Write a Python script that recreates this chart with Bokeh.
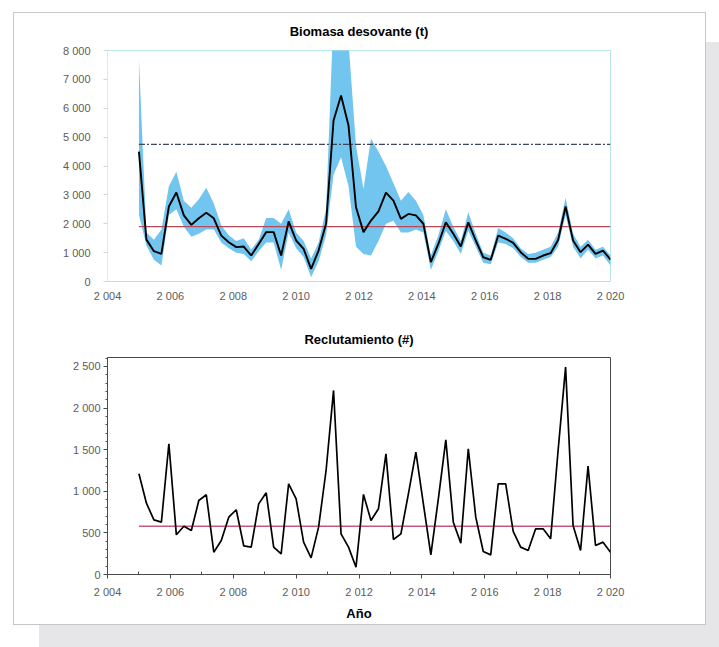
import numpy as np
from bokeh.plotting import figure
from bokeh.models import FixedTicker, Range1d
from bokeh.layouts import column
from bokeh.embed import file_html
from bokeh.resources import INLINE

# ---------------- data ----------------
# time steps (64 evenly spaced steps from 2005 to 2020, as in the picture)
years = list(np.linspace(2005, 2020, 64))

biomasa = [4500, 1450, 1050, 960, 2600, 3080, 2290, 1960, 2190, 2380,
           2190, 1590, 1360, 1190, 1210, 900, 1300, 1710, 1710, 900,
           2080, 1420, 1130, 440, 1070, 2000, 5575, 6440, 5400, 2570,
           1710, 2110, 2430, 3080, 2800, 2170, 2340, 2290, 2000, 670,
           1300, 2050, 1650, 1210, 2050, 1420, 840, 750, 1590, 1480,
           1340, 1015, 785, 785, 900, 980, 1440, 2600, 1420, 1015,
           1280, 960, 1070, 760]

biomasa_sup = [7700, 1700, 1450, 1800, 3300, 3800, 2800, 2550, 2850, 3250,
               2700, 1950, 1600, 1400, 1500, 1100, 1450, 2200, 2200, 2000,
               2500, 1700, 1400, 800, 1350, 2500, 9300, 9500, 8300, 4700,
               3200, 4950, 4500, 4000, 3400, 2800, 3100, 2800, 2300, 900,
               1600, 2500, 1900, 1400, 2400, 1650, 1000, 900, 1850, 1700,
               1500, 1150, 950, 1000, 1100, 1200, 1700, 2900, 1650, 1200,
               1450, 1100, 1200, 900]

biomasa_inf = [2300, 1250, 750, 550, 2300, 2500, 1900, 1550, 1650, 1800,
               1800, 1350, 1150, 1000, 950, 700, 1050, 1350, 1350, 400,
               1700, 1150, 850, 150, 700, 1600, 3700, 4300, 3300, 1200,
               950, 900, 1400, 2000, 2100, 1700, 1700, 1800, 1700, 400,
               1050, 1750, 1400, 950, 1750, 1200, 650, 600, 1350, 1300,
               1150, 850, 650, 650, 750, 850, 1200, 2300, 1200, 800,
               1100, 800, 900, 550]

biomasa_ref_alta = 4750
biomasa_ref_baja = 1900

reclutamiento = [1210, 857, 657, 629, 1571, 477, 580, 529, 889, 958,
                 268, 409, 689, 778, 345, 329, 849, 982, 329, 248,
                 1090, 909, 389, 200, 569, 1250, 2212, 489, 329, 88,
                 962, 649, 790, 1450, 421, 489, 970, 1470, 849, 236,
                 909, 1619, 629, 377, 1511, 689, 276, 236, 1090, 1090,
                 517, 329, 288, 549, 549, 429, 1490, 2492, 589, 288,
                 1302, 349, 389, 268]
reclutamiento_ref = 580

x_ticks = [2004, 2006, 2008, 2010, 2012, 2014, 2016, 2018, 2020]
x_labels = ["2 004", "2 006", "2 008", "2 010", "2 012", "2 014", "2 016", "2 018", "2 020"]
x_minor = [2005, 2007, 2009, 2011, 2013, 2015, 2017, 2019]
y1_ticks = [0, 1000, 2000, 3000, 4000, 5000, 6000, 7000, 8000]
y1_labels = ["0", "1 000", "2 000", "3 000", "4 000", "5 000", "6 000", "7 000", "8 000"]
y2_ticks = [0, 500, 1000, 1500, 2000, 2500]
y2_labels = ["0", "500", "1 000", "1 500", "2 000", "2 500"]
y2_minor = list(range(0, 2601, 100))

FONT = "Liberation Sans"
LABEL_COLOR = "#5c5c5c"

# ---------------- top: biomasa ----------------
p1 = figure(width=691, height=299, x_range=Range1d(2004, 2020), y_range=Range1d(0, 8000),
            output_backend="svg", toolbar_location=None,
            min_border_left=93, min_border_right=95, min_border_top=37, min_border_bottom=31,
            background_fill_color="white", border_fill_color="white")
p1.title.text = "Biomasa desovante (t)"
p1.title.align = "center"
p1.title.vertical_align = "top"
p1.title.text_font = FONT
p1.title.text_font_size = "13px"
p1.title.text_font_style = "bold"
p1.title.text_color = "black"
p1.title.standoff = 20
p1.grid.visible = False
p1.outline_line_color = "#b9e4e8"

p1.varea(x=years, y1=biomasa_inf, y2=biomasa_sup, fill_color="#72c5ef", fill_alpha=1.0)
p1.line(x=[years[0], years[-1]], y=[biomasa_ref_alta, biomasa_ref_alta],
        line_color="#3c4656", line_width=1.3, line_dash="6 2 2 2")
p1.line(x=[years[0], years[-1]], y=[biomasa_ref_baja, biomasa_ref_baja],
        line_color="#b84a5a", line_width=1.4)
p1.line(x=years, y=biomasa, line_color="black", line_width=1.9)

p1.xaxis.ticker = FixedTicker(ticks=x_ticks, minor_ticks=[])
p1.xaxis.major_label_overrides = dict(zip(x_ticks, x_labels))
p1.yaxis.ticker = FixedTicker(ticks=y1_ticks, minor_ticks=[])
p1.yaxis.major_label_overrides = dict(zip(y1_ticks, y1_labels))
for ax in (p1.xaxis[0], p1.yaxis[0]):
    ax.axis_line_color = "#b9e0dc"
    ax.major_label_text_font = FONT
    ax.major_label_text_font_size = "11px"
    ax.major_label_text_color = LABEL_COLOR
    ax.minor_tick_line_color = None
    ax.minor_tick_in = 0
    ax.minor_tick_out = 0
p1.xaxis.major_tick_line_color = None
p1.xaxis.major_tick_out = 0
p1.xaxis.major_tick_in = 0
p1.xaxis.major_label_standoff = 8
p1.yaxis.major_tick_line_color = "#d0d8dc"
p1.yaxis.major_tick_out = 4
p1.yaxis.major_tick_in = 0
p1.yaxis.major_label_standoff = 13
p1.yaxis.axis_line_color = "#dbe9f0"

# ---------------- bottom: reclutamiento ----------------
p2 = figure(width=691, height=312, x_range=Range1d(2004, 2020), y_range=Range1d(0, 2608),
            output_backend="svg", toolbar_location=None,
            min_border_left=93, min_border_right=95, min_border_top=45, min_border_bottom=50,
            background_fill_color="white", border_fill_color="white")
p2.title.text = "Reclutamiento (#)"
p2.title.align = "center"
p2.title.vertical_align = "middle"
p2.title.text_font = FONT
p2.title.text_font_size = "13px"
p2.title.text_font_style = "bold"
p2.title.text_color = "black"
p2.title.standoff = 20
p2.grid.visible = False
p2.outline_line_color = "#4a4a4a"

p2.line(x=[years[0], years[-1]], y=[reclutamiento_ref, reclutamiento_ref],
        line_color="#c8587a", line_width=1.4)
p2.line(x=years, y=reclutamiento, line_color="black", line_width=1.7)

p2.xaxis.ticker = FixedTicker(ticks=x_ticks, minor_ticks=x_minor)
p2.xaxis.major_label_overrides = dict(zip(x_ticks, x_labels))
p2.yaxis.ticker = FixedTicker(ticks=y2_ticks, minor_ticks=y2_minor)
p2.yaxis.major_label_overrides = dict(zip(y2_ticks, y2_labels))
for ax in (p2.xaxis[0], p2.yaxis[0]):
    ax.axis_line_color = "#4a4a4a"
    ax.major_tick_line_color = "#4a4a4a"
    ax.minor_tick_line_color = "#4a4a4a"
    ax.major_tick_out = 4
    ax.major_tick_in = 0
    ax.major_label_text_font = FONT
    ax.major_label_text_font_size = "11px"
    ax.major_label_text_color = LABEL_COLOR
p2.xaxis.minor_tick_in = 3
p2.xaxis.minor_tick_out = 0
p2.yaxis.minor_tick_in = 0
p2.yaxis.minor_tick_out = 2
p2.xaxis.major_label_standoff = 7
p2.yaxis.major_label_standoff = 3
p2.xaxis.axis_label = "Año"
p2.xaxis.axis_label_text_font = FONT
p2.xaxis.axis_label_text_font_size = "13px"
p2.xaxis.axis_label_text_font_style = "bold"
p2.xaxis.axis_label_text_color = "black"
p2.xaxis.axis_label_standoff = 5

layout = column(p1, p2, margin=(12, 0, 0, 13),
                styles={"border": "1px solid #c6c6c6",
                        "box-shadow": "26px 30px 0 0 #e6e6e8",
                        "background-color": "white"})

open("out.html", "w").write(file_html(layout, INLINE))
